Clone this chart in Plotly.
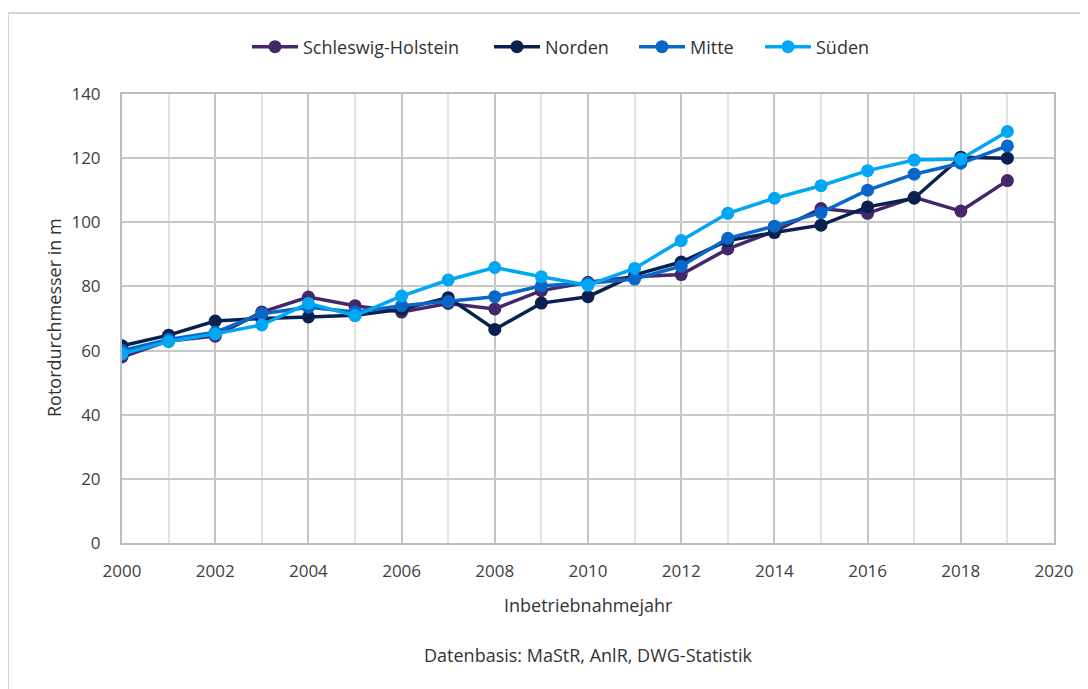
import plotly.graph_objects as go

years = list(range(2000, 2020))
schleswig_holstein = [58, 63, 64.5, 72, 76.7, 74, 72, 74.7, 73, 78.7, 81.3, 83, 83.7, 91.7, 97.2, 104.3, 102.8, 107.8, 103.5, 113]
norden = [61.5, 64.8, 69.2, 70, 70.5, 71, 72.9, 76.5, 66.6, 74.8, 76.8, 83.6, 87.6, 94.3, 96.8, 99.1, 104.8, 107.5, 120.3, 120]
mitte = [60, 63.5, 65.7, 71.5, 73.5, 72, 74, 75.3, 76.8, 80.2, 81, 82.3, 86.3, 95, 98.8, 103, 110, 115, 118.4, 123.8]
sueden = [59, 62.8, 65.2, 68, 74.7, 70.9, 77, 82, 85.9, 83, 80.4, 85.6, 94.3, 102.8, 107.5, 111.4, 116.1, 119.4, 119.7, 128.3]

series_names = ["Schleswig-Holstein", "Norden", "Mitte", "Süden"]
series_values = [schleswig_holstein, norden, mitte, sueden]
colors = ["#45286A", "#0A2150", "#0A67CA", "#00A7F5"]

x_ticks = list(range(2000, 2021, 2))
y_ticks = list(range(0, 141, 20))

FONT = "Open Sans, Noto Sans, sans-serif"

# page body has an 8px margin; plot area target: x 122..1054, y 94..543 (window coords)
W, H = 1080, 681
L, T = 114, 86
R = W - (1054 - 8)
B = H - (543 - 8)
PW = 1054 - 122
PH = 543 - 94

legend_ids = ["legend", "legend2", "legend3", "legend4"]
legend_left = [252, 494, 639, 765]

fig = go.Figure()
for name, vals, col, lid in zip(series_names, series_values, colors, legend_ids):
    fig.add_trace(go.Scatter(
        x=years, y=vals, name=name, mode="lines+markers",
        line=dict(color=col, width=3.5),
        marker=dict(color=col, size=13),
        legend=lid,
    ))

legend_layout = {}
for lid, lx in zip(legend_ids, legend_left):
    legend_layout[lid] = dict(
        orientation="h", x=(lx - 5 - 122) / PW, xanchor="left",
        y=(543 - 47) / PH, yanchor="middle",
        font=dict(size=18, color="#333333"),
        itemwidth=46, bgcolor="rgba(0,0,0,0)",
    )

fig.update_layout(
    width=W, height=H,
    margin=dict(l=L, r=R, t=T, b=B),
    paper_bgcolor="white", plot_bgcolor="white",
    font=dict(family=FONT, size=17, color="#404040"),
    showlegend=True,
    **legend_layout,
    xaxis=dict(
        range=[2000, 2020], tickvals=x_ticks, ticktext=[str(t) for t in x_ticks],
        showgrid=True, gridcolor="#C4C4C4", gridwidth=1.5,
        minor=dict(dtick=1, tick0=2000, showgrid=True, gridcolor="#E3E3E3", gridwidth=1.5),
        showline=True, linecolor="#BDBDBD", linewidth=2, mirror=True,
        ticks="", ticklabelstandoff=12, zeroline=False,
        tickfont=dict(size=17, color="#404040"),
    ),
    yaxis=dict(
        range=[0, 140], tickvals=y_ticks,
        showgrid=True, gridcolor="#C8C8C8", gridwidth=1.5,
        showline=True, linecolor="#BDBDBD", linewidth=2, mirror=True,
        ticks="", ticklabelstandoff=16, zeroline=False,
        tickfont=dict(size=17, color="#404040"),
    ),
    annotations=[
        dict(text="Rotordurchmesser in m", xref="paper", yref="paper",
             x=(54 - 122) / PW, y=(543 - 318) / PH, xanchor="center", yanchor="middle",
             textangle=-90, showarrow=False, font=dict(size=18, color="#333333")),
        dict(text="Inbetriebnahmejahr", xref="paper", yref="paper",
             x=(588 - 122) / PW, y=(543 - 605) / PH, xanchor="center", yanchor="middle",
             showarrow=False, font=dict(size=18, color="#333333")),
        dict(text="Datenbasis: MaStR, AnlR, DWG-Statistik", xref="paper", yref="paper",
             x=(588 - 122) / PW, y=(543 - 655) / PH, xanchor="center", yanchor="middle",
             showarrow=False, font=dict(size=18, color="#333333")),
    ],
    shapes=[
        dict(type="line", xref="paper", yref="paper",
             x0=(8 - 122) / PW, x1=(8 - 122) / PW, y0=-0.5, y1=(543 - 13) / PH,
             line=dict(color="#C8C8C8", width=1.5)),
        dict(type="line", xref="paper", yref="paper",
             x0=(8 - 122) / PW, x1=1.2, y0=(543 - 13) / PH, y1=(543 - 13) / PH,
             line=dict(color="#C8C8C8", width=1.5)),
    ],
)

fig.write_html("out.html")
